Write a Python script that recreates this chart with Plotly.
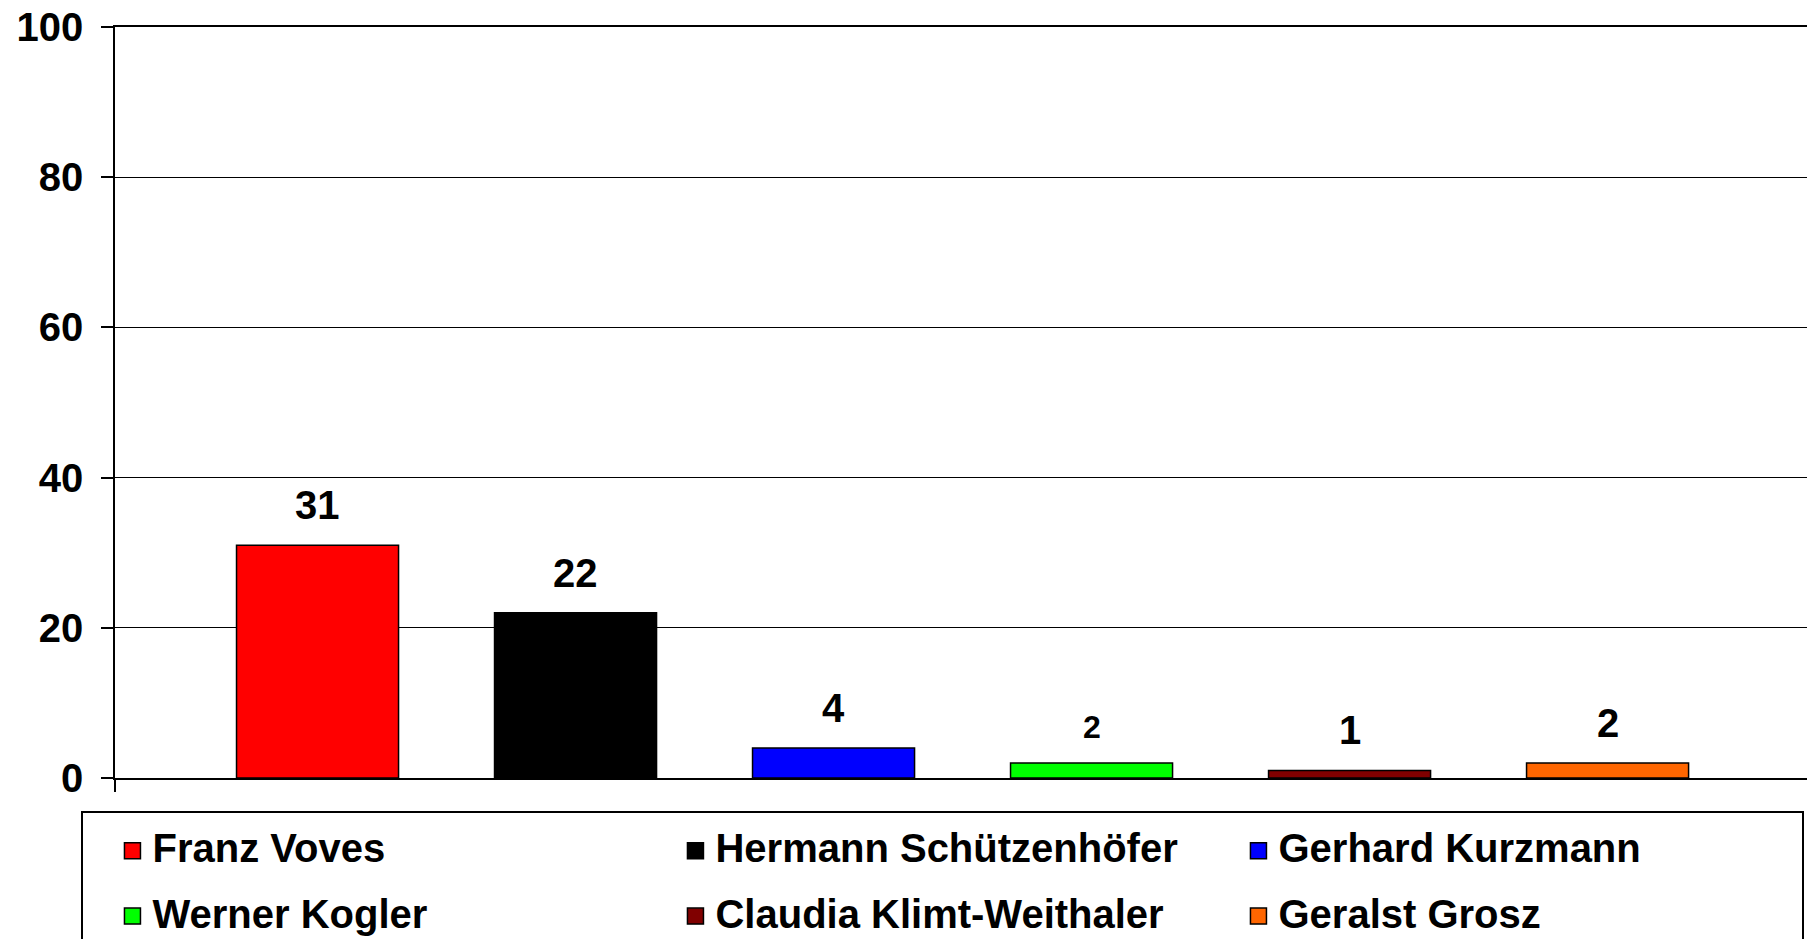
import plotly.graph_objects as go

candidates = ["Franz Voves", "Hermann Schützenhöfer", "Gerhard Kurzmann",
              "Werner Kogler", "Claudia Klimt-Weithaler", "Geralst Grosz"]
values = [31, 22, 4, 2, 1, 2]
colors = ["#FF0000", "#000000", "#0000FF", "#00FF00", "#800000", "#FF6600"]
label_sizes = [40, 40, 40, 32, 40, 40]
y_ticks = [0, 20, 40, 60, 80, 100]

FONT = "Liberation Sans, Arial, sans-serif"
x_range = [-0.785, 5.773]

fig = go.Figure()
for i, (name, v, c) in enumerate(zip(candidates, values, colors)):
    fig.add_trace(go.Bar(
        x=[i], y=[v], width=0.628, name=name, showlegend=False,
        marker=dict(color=c, line=dict(color="black", width=1.5)),
        hoverinfo="name+y",
    ))
for name, c in zip(candidates, colors):
    fig.add_trace(go.Scatter(
        x=[None], y=[None], mode="markers",
        name="<span style='font-size:40px;baseline-shift:7px'>" + name + "</span>",
        marker=dict(symbol="square", size=26, color=c,
                    line=dict(color="black", width=1.5)),
    ))

for i, (v, s) in enumerate(zip(values, label_sizes)):
    fig.add_annotation(x=i, y=v, text=str(v), showarrow=False,
                       yanchor="bottom", yshift=16,
                       font=dict(family=FONT, size=s, color="black", weight="bold"))

fig.update_layout(
    width=1807, height=939, autosize=False,
    margin=dict(l=115, r=0, t=27, b=161, pad=0),
    plot_bgcolor="white", paper_bgcolor="white",
    barmode="overlay",
    font=dict(family=FONT, color="black"),
    showlegend=True,
    legend=dict(
        orientation="h", xref="container", yref="container",
        x=81 / 1807, y=1 - 811 / 939, xanchor="left", yanchor="top",
        bordercolor="black", borderwidth=2, bgcolor="white",
        font=dict(family=FONT, size=48, color="black", weight="bold"),
        title=dict(text="&nbsp;", side="left",
                   font=dict(family=FONT, size=70)),
        entrywidth=518, entrywidthmode="pixels", itemsizing="trace",
        traceorder="normal",
    ),
    xaxis=dict(range=x_range, showgrid=False, zeroline=False,
               showticklabels=False, showline=True, linecolor="black",
               linewidth=2, mirror=True, ticks="outside", ticklen=12,
               tickwidth=1.5, tickcolor="black", tickvals=[x_range[0]],
               fixedrange=True),
    yaxis=dict(range=[0, 100], tickvals=y_ticks, showgrid=True,
               gridcolor="black", gridwidth=1.3, zeroline=False,
               showline=True, linecolor="black", linewidth=1.5,
               ticks="outside", ticklen=12, tickwidth=1.5, tickcolor="black",
               ticklabelstandoff=10,
               tickfont=dict(family=FONT, size=40, color="black", weight="bold"),
               fixedrange=True),
)

post = ("document.documentElement.style.margin='0';"
        "document.body.style.margin='0';"
        "document.body.style.overflow='hidden';"
        "document.documentElement.style.overflow='hidden';")

fig.write_html("out.html", post_script=post, config={"displayModeBar": False})
